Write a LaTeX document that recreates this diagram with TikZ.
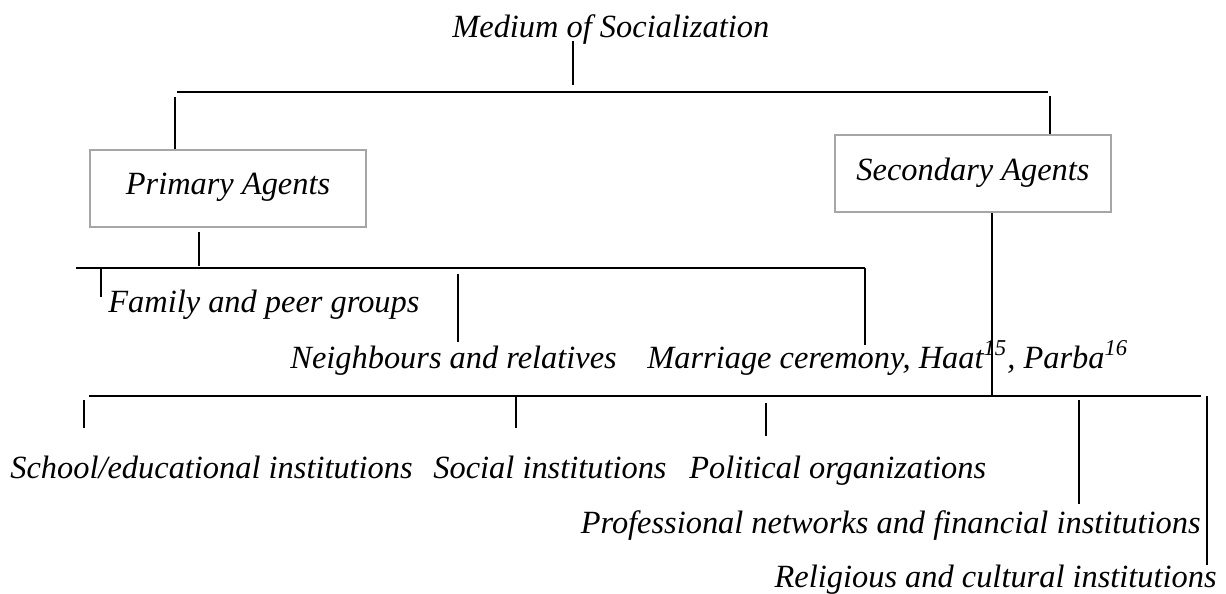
\documentclass[tikz,border=0pt]{standalone}
\usepackage{fontspec}
\setmainfont{Liberation Serif}
\usepackage{xcolor}
\definecolor{boxgray}{HTML}{A6A6A6}

\begin{document}
\begin{tikzpicture}[x=0.5pt,y=0.5pt]
\tikzstyle{every node}+=[inner sep=0pt, font=\fontsize{16.2}{19}\selectfont\itshape]
\tikzstyle{agent}=[draw=boxgray, line width=1pt, minimum width=138pt, minimum height=38.5pt, text height=0.75em, text depth=0.1em]
\tikzstyle{branch}=[black, line width=0.6pt]
\useasboundingbox (0,0) rectangle (1226,-594);
\node [anchor=base west] (med) at (452,-37) {Medium of Socialization};
\node [agent] (prim) at (228,-188) {Primary Agents};
\node [agent] (sec) at (973,-173.5) {Secondary Agents};
\node [anchor=base west] (fam) at (108,-312) {Family and peer groups};
\node [anchor=base west] (neigh) at (290,-368) {Neighbours and relatives};
\node [anchor=base west] (marr) at (647,-368) {Marriage ceremony, Haat\textsuperscript{15}, Parba\textsuperscript{16}};
\node [anchor=base west] (school) at (10,-478) {School/educational institutions};
\node [anchor=base west] (social) at (433,-478) {Social institutions};
\node [anchor=base west] (polit) at (689,-478) {Political organizations};
\node [anchor=base east] (prof) at (1201,-533) {Professional networks and financial institutions};
\node [anchor=base east] (relig) at (1217,-587) {Religious and cultural institutions};
% top level
\coordinate (m1) at (573,-41);
\coordinate (m2) at (573,-85);
\coordinate (t1) at (177,-92);
\coordinate (t2) at (1048,-92);
\draw [branch] (m1) -- (m2);
\draw [branch] (t1) -- (t2);
\draw [branch] (175,-97) -- (175,-97 |- prim.north);
\draw [branch] (1050,-96) -- (1050,-96 |- sec.north);
% primary agents
\coordinate (p1) at (76,-268);
\coordinate (p2) at (865,-268);
\draw [branch] (199,-232) -- (199,-266);
\draw [branch] (p1) -- (p2);
\draw [branch] (101,-268) -- (101,-297);
\draw [branch] (458,-274) -- (458,-342);
\draw [branch] (p2) -- (865,-345);
% secondary agents
\coordinate (s1) at (89,-396);
\coordinate (s2) at (1201,-396);
\draw [branch] (992,-396 |- sec.south) -- (992,-396);
\draw [branch] (s1) -- (s2);
\draw [branch] (84,-400) -- (84,-428);
\draw [branch] (516,-396) -- (516,-428);
\draw [branch] (766,-403) -- (766,-436);
\draw [branch] (1079,-400) -- (1079,-504);
\draw [branch] (1207,-396) -- (1207,-565);
\end{tikzpicture}
\end{document}
